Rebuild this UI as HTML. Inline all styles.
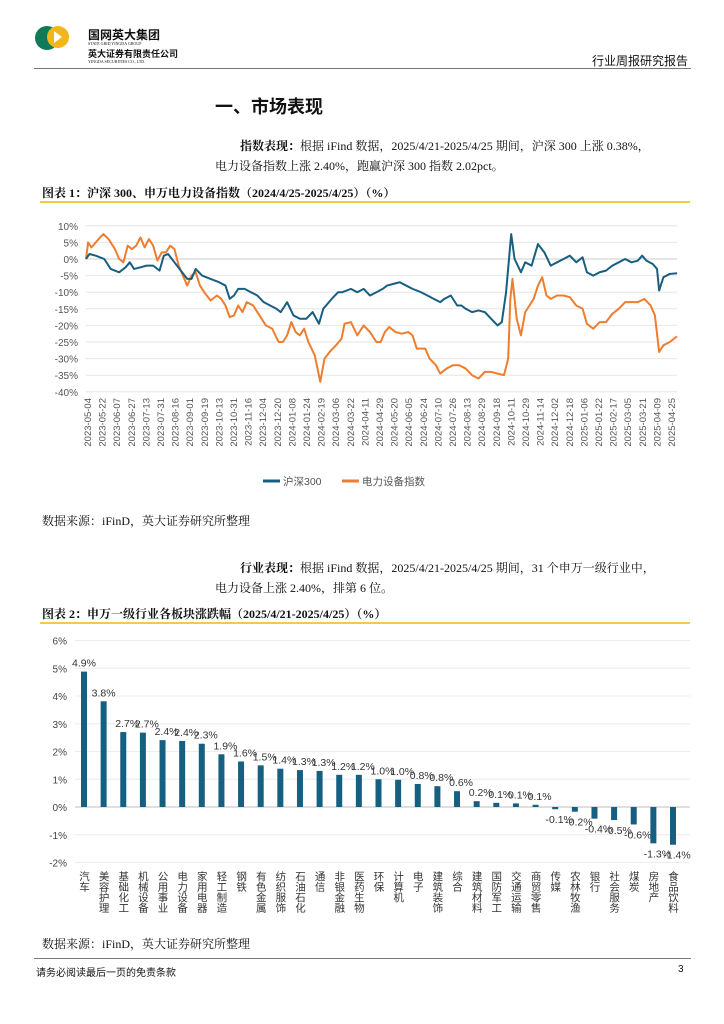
<!DOCTYPE html>
<html><head><meta charset="utf-8"><style>
body{margin:0;width:724px;height:1024px;position:relative;background:#fff;font-family:"Liberation Serif","Noto Serif CJK SC",serif;color:#111;overflow:hidden}
.a{position:absolute;white-space:nowrap}
.sans{font-family:"Liberation Sans","Noto Sans CJK SC",sans-serif}
svg text{font-family:"Liberation Sans","Noto Sans CJK SC",sans-serif}
</style></head><body>
<div>
<svg class="a" style="left:34px;top:22px" width="36" height="32">
<circle cx="13" cy="16" r="12" fill="#0e7a5a"/><circle cx="24" cy="15" r="11" fill="#f2b51a"/><path d="M20 9l8 6-8 6z" fill="#fff"/></svg>
<div class="a sans" style="left:88px;top:26px;font-size:12px;font-weight:bold">国网英大集团</div>
<div class="a" style="left:88px;top:41px;font-size:4px">STATE GRID YINGDA GROUP</div>
<div class="a sans" style="left:88px;top:47px;font-size:9px;font-weight:bold">英大证券有限责任公司</div>
<div class="a" style="left:88px;top:59px;font-size:4px">YINGDA SECURITIES CO., LTD.</div>
<div class="a sans" style="left:592px;top:52px;font-size:12px">行业周报研究报告</div>
<div class="a" style="left:34px;top:68px;width:657px;height:1px;background:#777"></div>
</div>
<div class="a sans" style="left:215px;top:93px;font-size:18px;font-weight:bold">一、市场表现</div>
<div class="a" style="left:240px;top:137px;font-size:12px"><b>指数表现：</b>根据 iFind 数据，2025/4/21-2025/4/25 期间，沪深 300 上涨 0.38%，</div>
<div class="a" style="left:215px;top:157px;font-size:12px">电力设备指数上涨 2.40%，跑赢沪深 300 指数 2.02pct。</div>
<div class="a" style="left:42px;top:184px;font-size:12px;font-weight:bold">图表 1：沪深 300、申万电力设备指数（2024/4/25-2025/4/25）（%）</div>
<div class="a" style="left:40px;top:201px;width:650px;height:2px;background:#f3c94a"></div>
<svg id="c1" class="a" style="left:0;top:200px" width="724" height="310"></svg>
<div class="a" style="left:42px;top:512px;font-size:12px">数据来源：iFinD，英大证券研究所整理</div>
<div class="a" style="left:240px;top:559px;font-size:12px"><b>行业表现：</b>根据 iFind 数据，2025/4/21-2025/4/25 期间，31 个申万一级行业中，</div>
<div class="a" style="left:215px;top:579px;font-size:12px">电力设备上涨 2.40%，排第 6 位。</div>
<div class="a" style="left:42px;top:605px;font-size:12px;font-weight:bold">图表 2：申万一级行业各板块涨跌幅（2025/4/21-2025/4/25）（%）</div>
<div class="a" style="left:40px;top:622px;width:650px;height:2px;background:#f3c94a"></div>
<svg id="c2" class="a" style="left:0;top:624px" width="724" height="306"></svg>
<div class="a" style="left:42px;top:935px;font-size:12px">数据来源：iFinD，英大证券研究所整理</div>
<div class="a" style="left:34px;top:958px;width:657px;height:1px;background:#777"></div>
<div class="a sans" style="left:36px;top:964px;font-size:10px">请务必阅读最后一页的免责条款</div>
<div class="a sans" style="left:678px;top:964px;font-size:10px">3</div>
<script>
const dateLabels=["2023-05-04","2023-05-22","2023-06-07","2023-06-27","2023-07-13","2023-07-31","2023-08-16","2023-09-01","2023-09-19","2023-10-13","2023-10-31","2023-11-16","2023-12-04","2023-12-20","2024-01-08","2024-01-24","2024-02-19","2024-03-06","2024-03-22","2024-04-11","2024-04-29","2024-05-20","2024-06-05","2024-06-24","2024-07-10","2024-07-26","2024-08-13","2024-08-29","2024-09-18","2024-10-11","2024-10-29","2024-11-14","2024-12-02","2024-12-18","2025-01-06","2025-01-22","2025-02-17","2025-03-05","2025-03-21","2025-04-09","2025-04-25"];
const yTicks=[10,5,0,-5,-10,-15,-20,-25,-30,-35,-40];
const hsT=[0,8,23,43,58,78,93,103,113,128,143,158,173,183,193,208,223,238,248,258,273,293,313,328,338,348,358,373,388,403,418,433,448,458,473,488,503,518,533,548,558,578,593,603,623,638,653,668,683,698,708,723,738,753,768,788,803,818,833,843,858,873,883,893,908,923,938,953,968,978,988,1000,1008,1023,1033,1048,1063,1078,1093,1108,1123,1138,1153,1168,1178,1193,1208,1223,1238,1253,1268,1283,1298,1308,1318,1333,1343,1348,1358,1373,1390];
const hs=[0,1.5,1,0,-3,-4,-2.5,-1,-3,-2.5,-2,-2,-3.5,1,1.5,-1,-3.5,-6,-6,-3,-5,-6,-7,-8,-12,-11,-9,-9,-10,-11,-13,-14,-15,-16,-13,-17,-18,-18,-16,-19.5,-15,-12,-10,-10,-9,-10,-9,-11,-10,-9,-8,-7.5,-7,-8,-9,-10,-11,-12,-13,-12,-11,-14,-14,-15,-16,-15.5,-16,-18,-20,-19,-10,7.5,0,-4,-1,-2,4.5,2,-2,-1,0,1,-1,0.5,-4,-5,-4,-3.5,-2,-1,0,-1,-0.5,1,-0.5,-1.5,-3,-9.5,-5.5,-4.5,-4.3];
const elT=[0,5,13,23,33,41,53,68,78,88,98,108,118,128,138,148,158,168,178,188,198,208,218,228,238,248,258,268,278,293,308,318,328,338,348,358,368,378,393,408,423,438,453,463,473,483,493,503,513,523,538,551,561,573,588,601,608,623,638,653,668,683,693,703,713,728,743,758,768,778,788,798,808,823,833,848,863,878,893,908,923,938,953,968,983,993,998,1003,1013,1023,1033,1043,1053,1063,1073,1083,1093,1108,1123,1138,1153,1168,1178,1193,1208,1223,1238,1253,1268,1283,1298,1313,1328,1338,1348,1358,1373,1390];
const el=[0,5,3.5,5,6.5,7.5,6,3,0,-1,4,3,4,6.5,3.5,6,4,-0.5,2,2,4,3,-2,-5,-8,-5,-4,-8,-10,-12.5,-11,-12,-14,-17.5,-17,-14,-16,-13,-14,-17,-20,-21,-25,-25,-23,-19,-22,-23,-21,-25,-29,-37,-30,-28,-26,-24,-19.5,-19,-23,-20,-22,-25,-25,-22,-20.5,-22,-22.5,-22,-23,-27,-27,-27,-30,-32,-34.5,-33,-32,-32,-33,-35,-36,-34,-34,-34.5,-35,-30,-12,-6,-18,-23,-16,-14,-12,-8,-5.5,-11,-12,-11,-11,-11.5,-14,-15,-19.5,-21,-19,-19,-16.5,-15,-13,-13,-13,-12,-14,-17,-28,-26,-25,-23.3];
const NS='http://www.w3.org/2000/svg';
function mk(p,t,a){const e=document.createElementNS(NS,t);for(const k in a)e.setAttribute(k,a[k]);p.appendChild(e);return e;}
(function(){
const s=document.getElementById('c1');
const x0=86,x1=677,tMax=1390;
const X=t=>x0+(x1-x0)*t/tMax;
const Y=v=>59-(v)*16.6/5;
yTicks.forEach(v=>{
 const g=mk(s,'line',{x1:x0,x2:x1,y1:Y(v),y2:Y(v),stroke:v===0?'#ccc':'#e6e6e6','stroke-width':1});
 
 const t=mk(s,'text',{x:78,y:Y(v)+4,'text-anchor':'end','font-size':10,fill:'#555'});t.textContent=v+'%';
 
});
dateLabels.forEach((d,i)=>{
 const x=88+i*(672-88)/(dateLabels.length-1);
 const t=mk(s,'text',{x:0,y:0,'text-anchor':'end','font-size':9.5,fill:'#555',transform:`translate(${x+3},198) rotate(-90)`});t.textContent=d;
 
});
function line(T,V,c,n){const p=mk(s,'polyline',{points:T.map((t,i)=>X(t)+','+Y(V[i])).join(' '),fill:'none',stroke:c,'stroke-width':2,'stroke-linejoin':'round'});
 }
line(elT,el,'#ef7d2d','series-electric-equipment');
line(hsT,hs,'#175f80','series-hs300');
const lg=[[283,'#175f80','沪深300'],[362,'#ef7d2d','电力设备指数']];
lg.forEach(([x,c,n])=>{const l=mk(s,'line',{x1:x-20,x2:x-3,y1:281,y2:281,stroke:c,'stroke-width':3});
 
 const t=mk(s,'text',{x:x,y:285,'font-size':10.5,fill:'#555'});t.textContent=n;
 });
})();
const cats=["汽车","美容护理","基础化工","机械设备","公用事业","电力设备","家用电器","轻工制造","钢铁","有色金属","纺织服饰","石油石化","通信","非银金融","医药生物","环保","计算机","电子","建筑装饰","综合","建筑材料","国防军工","交通运输","商贸零售","传媒","农林牧渔","银行","社会服务","煤炭","房地产","食品饮料"];
const vals=[4.88,3.81,2.7,2.68,2.41,2.38,2.28,1.9,1.64,1.5,1.38,1.33,1.3,1.16,1.16,1.0,0.98,0.83,0.75,0.57,0.21,0.15,0.13,0.08,-0.08,-0.17,-0.42,-0.47,-0.63,-1.31,-1.36];
const pTicks=[6,5,4,3,2,1,0,-1,-2];
(function(){
const s=document.getElementById('c2');
const Y=v=>183-v*27.75;
const X=i=>84+i*(673-84)/(cats.length-1);
pTicks.forEach(v=>{const g=mk(s,'line',{x1:75,x2:690,y1:Y(v),y2:Y(v),stroke:v===0?'#ccc':'#ececec','stroke-width':v===0?1.2:1});
 
 const t=mk(s,'text',{x:67,y:Y(v)+4,'text-anchor':'end','font-size':10,fill:'#444'});t.textContent=v+'%';
 });
vals.forEach((v,i)=>{
 const x=X(i);const b=mk(s,'rect',{x:x-3,y:Math.min(Y(v),Y(0)),width:6,height:Math.abs(Y(v)-Y(0)),fill:'#175f80'});
 
 const ly=v>=0?Y(v)-5:Y(v)+14;
 const t=mk(s,'text',{x:x+(v>=0?(i<2?0:4):4),y:ly,'text-anchor':'middle','font-size':10.5,fill:'#333'});t.textContent=v.toFixed(1)+'%';
 
 const c=mk(s,'text',{x:0,y:0,'font-size':10.5,fill:'#333','writing-mode':'tb',transform:`translate(${x},247)`,'text-anchor':'start'});
 c.setAttribute('style','writing-mode:vertical-rl');c.textContent=cats[i];
 
});
})();
</script>
</body></html>
